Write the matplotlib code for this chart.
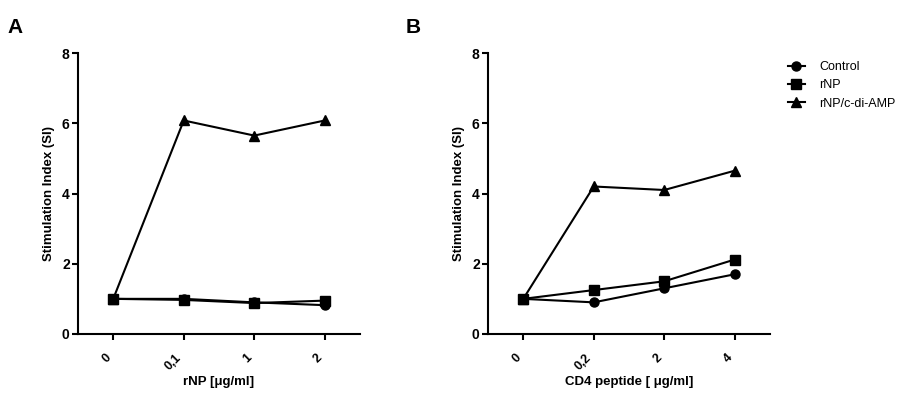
import numpy as np
import matplotlib
matplotlib.use("Agg")
import matplotlib.pyplot as plt

plt.rcParams["font.family"] = ["Liberation Sans", "DejaVu Sans"]

# ---- data ----
series_names = ["Control", "rNP", "rNP/c-di-AMP"]
markers = ["o", "s", "^"]

x_labels_a = ["0", "0,1", "1", "2"]
control_a = [1.0, 1.0, 0.9, 0.82]
rnp_a = [1.0, 0.97, 0.88, 0.95]
cdi_a = [1.0, 6.08, 5.65, 6.08]

x_labels_b = ["0", "0,2", "2", "4"]
control_b = [1.0, 0.9, 1.3, 1.7]
rnp_b = [1.0, 1.25, 1.5, 2.12]
cdi_b = [1.0, 4.2, 4.1, 4.65]

fig = plt.figure(figsize=(9.11, 3.99), dpi=100)
ax_a = fig.add_axes([0.0856, 0.163, 0.3096, 0.704])
ax_b = fig.add_axes([0.5357, 0.163, 0.3095, 0.704])


def draw_panel(ax, labels, series, xlabel):
    x = np.arange(len(labels))
    handles = []
    for vals, m, name in zip(series, markers, series_names):
        h, = ax.plot(x, vals, color="black", lw=1.5, marker=m,
                     markersize=7 if m != "o" else 6.5, label=name)
        handles.append(h)
    ax.set_xlim(-0.5, 3.5)
    ax.set_ylim(0, 8)
    ax.set_yticks([0, 2, 4, 6, 8])
    ax.set_xticks(x)
    ax.set_xticklabels(labels, rotation=45, ha="right", va="top",
                       fontweight="bold", fontsize=9)
    for t in ax.get_yticklabels():
        t.set_fontweight("bold")
        t.set_fontsize(10)
    ax.spines["top"].set_visible(False)
    ax.spines["right"].set_visible(False)
    for s in ["left", "bottom"]:
        ax.spines[s].set_linewidth(1.5)
    ax.tick_params(width=1.5, length=4, pad=2)
    ax.tick_params(axis="x", pad=9)
    ax.set_ylabel("Stimulation Index (SI)", fontweight="bold", fontsize=9.5,
                  labelpad=5)
    ax.set_xlabel(xlabel, fontweight="bold", fontsize=9.5, labelpad=2)
    return handles


draw_panel(ax_a, x_labels_a, [control_a, rnp_a, cdi_a], "rNP [\u03bcg/ml]")
handles = draw_panel(ax_b, x_labels_b, [control_b, rnp_b, cdi_b],
                     "CD4 peptide [ \u03bcg/ml]")

fig.legend(handles=handles, loc="upper left", bbox_to_anchor=(0.853, 0.875),
           frameon=False, fontsize=9, handlelength=1.3, labelspacing=0.5,
           handletextpad=1.2)

fig.text(0.008, 0.955, "A", fontsize=15, fontweight="bold", va="top")
fig.text(0.445, 0.955, "B", fontsize=15, fontweight="bold", va="top")

fig.savefig("out.png", dpi=100)
